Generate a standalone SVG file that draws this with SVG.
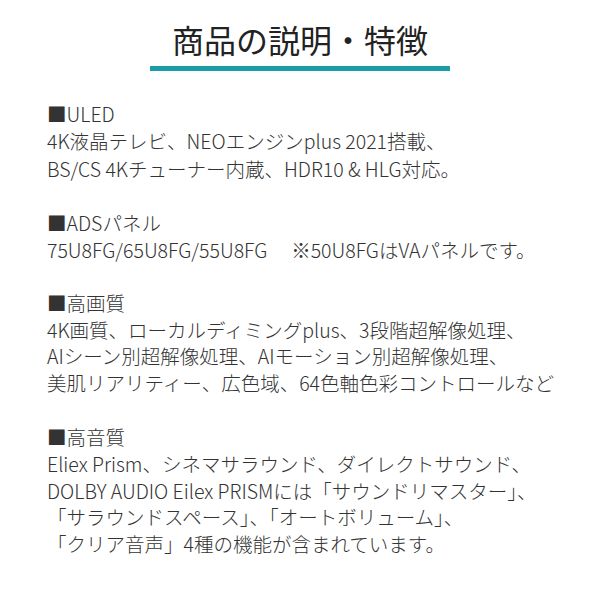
<svg xmlns="http://www.w3.org/2000/svg" width="600" height="600" viewBox="0 0 600 600">
<style>
.t{font-family:"Noto Sans CJK JP","Noto Sans",sans-serif;font-size:19.5px;fill:#333;font-weight:300}
.h{font-family:"Noto Sans CJK JP","Noto Sans",sans-serif;font-size:32px;fill:#222;font-weight:400}
</style>
<rect width="600" height="600" fill="#fff"/>
<g id="title">
<text class="h" x="300" y="53" text-anchor="middle">商品の説明・特徴</text>
<rect x="150" y="66" width="300" height="5" fill="#1a9ea3"/>
</g>
<g id="uled">
<text class="t" x="47" y="122">■ULED</text>
<text class="t" x="47" y="149">4K液晶テレビ、NEOエンジンplus 2021搭載、</text>
<text class="t" x="47" y="177">BS/CS 4Kチューナー内蔵、HDR10 &amp; HLG対応。</text>
</g>
<g id="ads">
<text class="t" x="47" y="231">■ADSパネル</text>
<text class="t" x="47" y="258" xml:space="preserve">75U8FG/65U8FG/55U8FG　 ※50U8FGはVAパネルです。</text>
</g>
<g id="picture">
<text class="t" x="47" y="311">■高画質</text>
<text class="t" x="47" y="338">4K画質、ローカルディミングplus、3段階超解像処理、</text>
<text class="t" x="47" y="364">AIシーン別超解像処理、AIモーション別超解像処理、</text>
<text class="t" x="47" y="391">美肌リアリティー、広色域、64色軸色彩コントロールなど</text>
</g>
<g id="sound">
<text class="t" x="47" y="445">■高音質</text>
<text class="t" x="47" y="472">Eliex Prism、シネマサラウンド、ダイレクトサウンド、</text>
<text class="t" x="47" y="499">DOLBY AUDIO Eilex PRISMには「サウンドリマスター」、</text>
<text class="t" x="47" y="525">「サラウンドスペース」、「オートボリューム」、</text>
<text class="t" x="47" y="552">「クリア音声」4種の機能が含まれています。</text>
</g>
</svg>
